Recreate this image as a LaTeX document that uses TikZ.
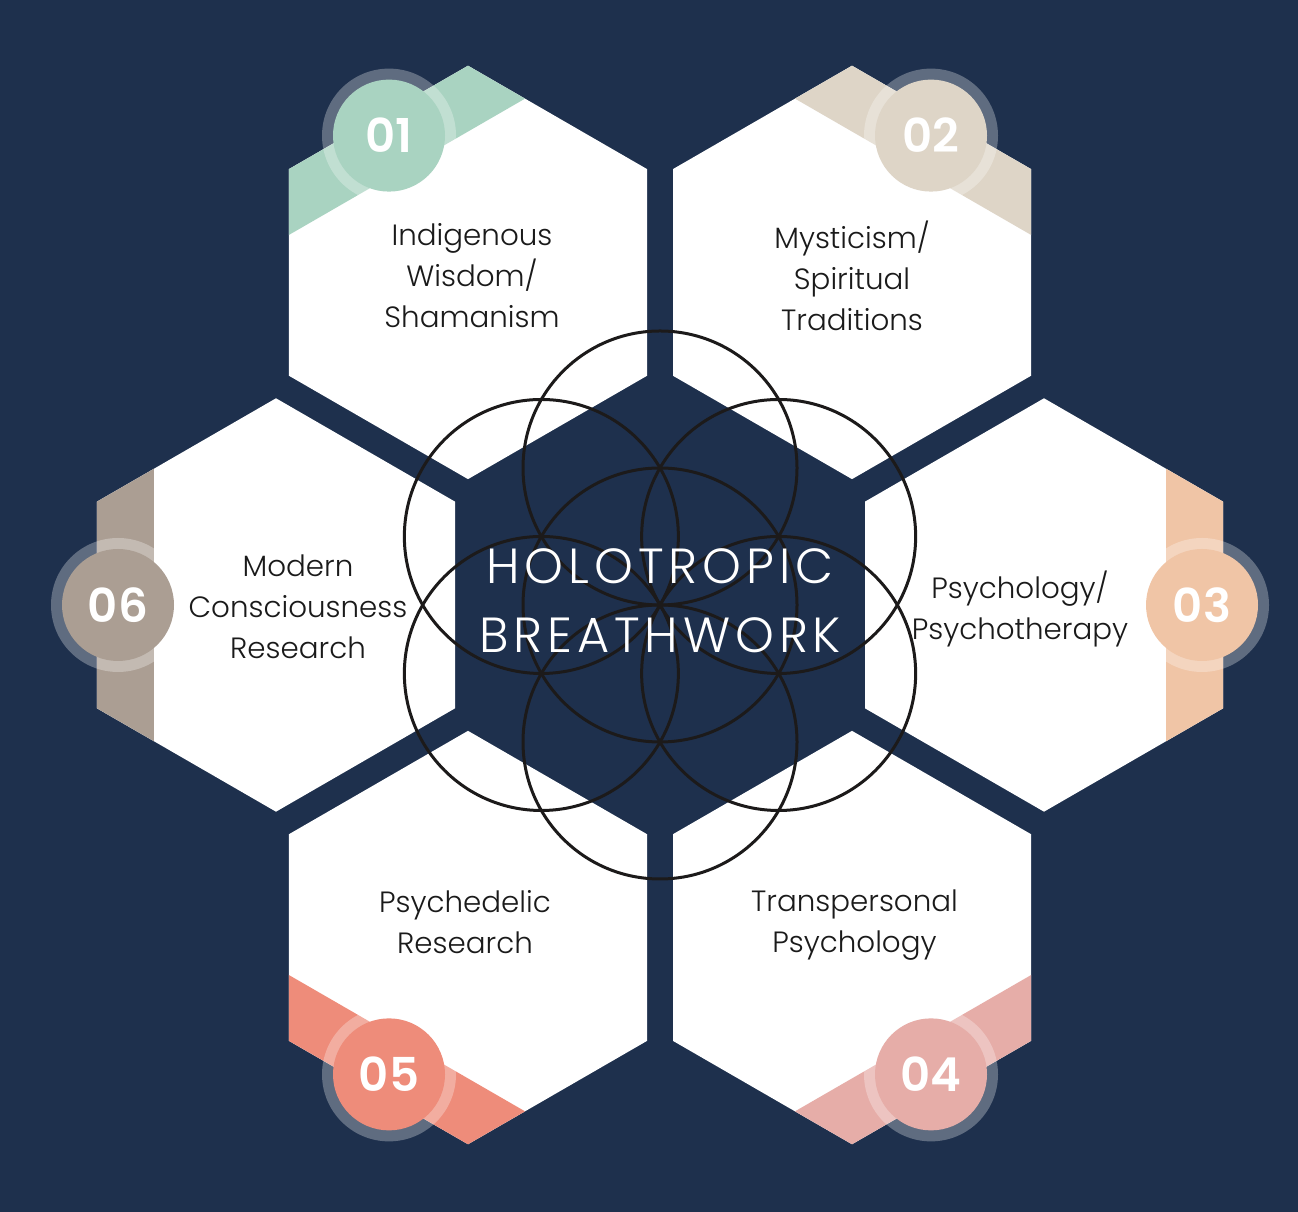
\documentclass[tikz,border=0pt]{standalone}
\usepackage{fontspec}
\setmainfont{Poppins}
\newfontfamily\thinfont{Poppins Light}
\newfontfamily\titlefont{Poppins Light}[LetterSpace=10]
\newfontfamily\numfont{Poppins SemiBold}
\definecolor{navy}{HTML}{1E304D}
\definecolor{cmint}{HTML}{A9D3C1}
\definecolor{cbeige}{HTML}{DED5C7}
\definecolor{cpeach}{HTML}{F0C5A6}
\definecolor{cpink}{HTML}{E6ADA8}
\definecolor{ccoral}{HTML}{EE8C7A}
\definecolor{ctaupe}{HTML}{AB9E93}
\definecolor{labelink}{HTML}{1A1A1A}
\definecolor{flowerink}{HTML}{1C1A1A}
\tikzset{
  numdisc/.style={circle, inner sep=0pt, minimum size=84pt, text=white,
    font=\numfont\fontsize{35}{35}\selectfont},
  celllabel/.style={align=center, text=labelink, inner sep=0pt,
    font=\thinfont\fontsize{22}{30.75}\selectfont},
  titletext/.style={align=center, text=white, inner sep=0pt,
    font=\titlefont\fontsize{37}{51.75}\selectfont},
  flower/.style={draw=flowerink, line width=2.25pt},
}
% #1 direction angle, #2 band colour, #3 number
\newcommand\hexcell[3]{%
  \begin{scope}[shift={(660,607)}, shift={(#1:384)}]
    \fill[white] (30:206.7) \foreach \k in {1,...,5}{ -- ({30+60*\k}:206.7)} -- cycle;
    \begin{scope}
      \clip (30:206.7) \foreach \k in {1,...,5}{ -- ({30+60*\k}:206.7)} -- cycle;
      \fill[#2, rotate=#1] (122,-230) rectangle (200,230);
    \end{scope}
    \fill[white, opacity=0.29] (#1:158) circle (67);
    \node[numdisc, fill=#2] (n#3) at (#1:158) {#3};
  \end{scope}}
\begin{document}
\begin{tikzpicture}[x=0.75pt, y=0.75pt]
\fill[navy] (0,0) rectangle (1298,1212);
\hexcell{120}{cmint}{01}
\hexcell{60}{cbeige}{02}
\hexcell{0}{cpeach}{03}
\hexcell{-60}{cpink}{04}
\hexcell{-120}{ccoral}{05}
\hexcell{180}{ctaupe}{06}
% seed of life
\draw[flower] (660,607) circle (137);
\foreach \t in {30,90,...,330}
  \draw[flower, shift={(660,607)}] (\t:137) circle (137);
% labels
\node[celllabel] (l01) at (472,936) {Indigenous\\Wisdom/\\Shamanism};
\node[celllabel] (l02) at (852,936) {Mysticism/\\Spiritual\\Traditions};
\node[celllabel] (l03) at (1020,603) {Psychology/\\Psychotherapy};
\node[celllabel] (l04) at (854.5,287) {Transpersonal\\Psychology};
\node[celllabel] (l05) at (465,290) {Psychedelic\\Research};
\node[celllabel] (l06) at (298,605) {Modern\\Consciousness\\Research};
\node[titletext] (title) at (660,611) {HOLOTROPIC\\BREATHWORK};
\end{tikzpicture}
\end{document}
